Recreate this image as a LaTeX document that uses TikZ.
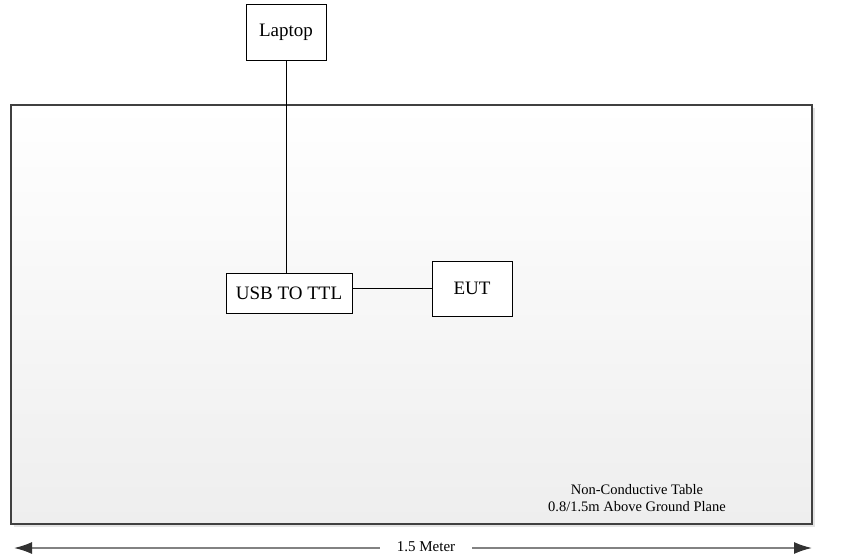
\documentclass[tikz,border=0pt]{standalone}
\usepackage{fontspec}
\setmainfont{Liberation Serif}
\usetikzlibrary{shadows,arrows.meta}
\definecolor{tableedge}{RGB}{64, 64, 64}
\definecolor{tablebottom}{RGB}{238, 238, 238}
\definecolor{rulegray}{RGB}{130, 130, 130}
\definecolor{tipgray}{RGB}{50, 50, 50}

\begin{document}
\begin{tikzpicture}[x=1pt, y=-1pt,
	devbox/.style={draw, line width=0.8pt, fill=white, minimum height=#1, inner sep=0pt, font=\fontsize{19}{22}\selectfont},
	devbox/.default=40pt,
	span/.style={rulegray, line width=1.6pt, -{Latex[length=18pt, width=12pt, color=tipgray]}}]
	\useasboundingbox (0,0) rectangle (847,557);
	\draw[line width=2.6pt, tableedge, top color=white, bottom color=tablebottom, drop shadow={shadow xshift=3pt, shadow yshift=-3pt, fill=gray!35, opacity=0.6}] (11,105) rectangle (812,524);
	\node[devbox=56pt, minimum width=80pt] (laptop) at (286,32) {Laptop};
	\node[devbox=40pt, minimum width=126pt] (usb) at (289,293) {USB TO TTL};
	\node[devbox=55pt, minimum width=80pt] (eut) at (472,288.5) {EUT};
	\draw[line width=0.8pt] (laptop.south) -- (laptop.south |- usb.north);
	\draw[line width=0.8pt] (usb.east |- eut.west) -- (eut.west);
	\node[align=center, font=\fontsize{14.5}{17}\selectfont] (tablenote) at (637,498) {Non-Conductive Table\\0.8/1.5m Above Ground Plane};
	\node[font=\fontsize{15}{17}\selectfont, inner xsep=17pt] (meter) at (426,547) {1.5 Meter};
	\coordinate (leftend) at (14,548);
	\coordinate (rightend) at (812,548);
	\draw[span] (meter.west |- leftend) -- (leftend);
	\draw[span] (meter.east |- rightend) -- (rightend);
\end{tikzpicture}
\end{document}
